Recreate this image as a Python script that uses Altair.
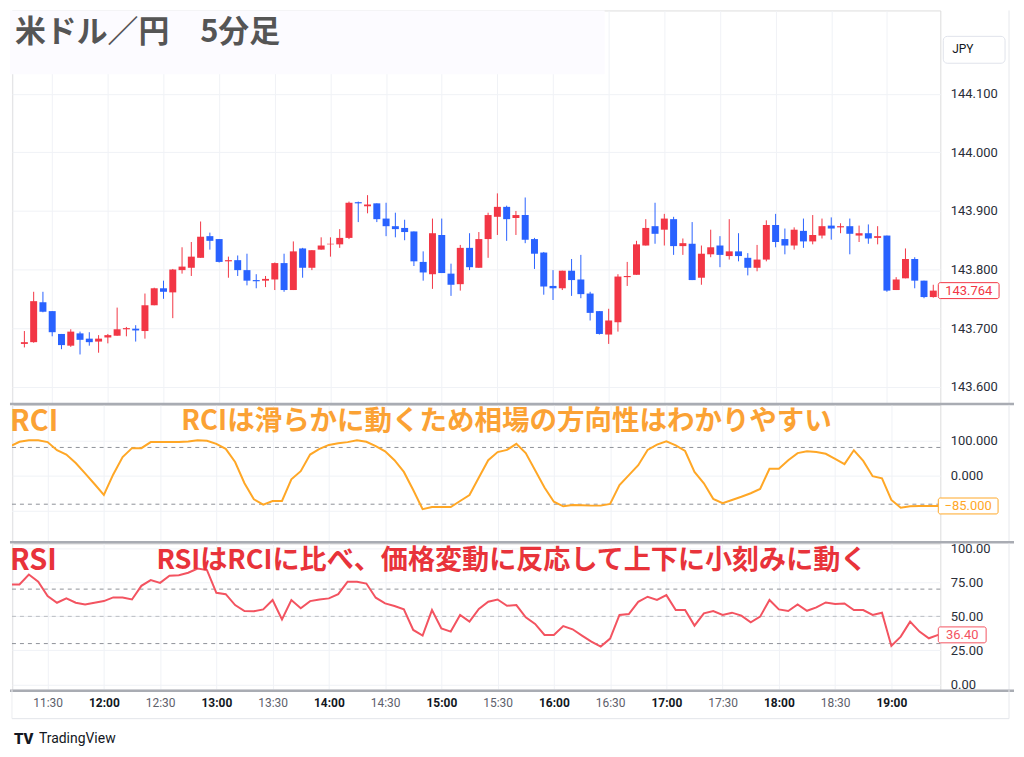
import altair as alt
import pandas as pd

TITLE = "米ドル／円　5分足"
RCI_LABEL = "RCI"
RSI_LABEL = "RSI"
RCI_NOTE = "RCIは滑らかに動くため相場の方向性はわかりやすい"
RSI_NOTE = "RSIはRCIに比べ、価格変動に反応して上下に小刻みに動く"
CURRENCY = "JPY"
BRAND = "TradingView"

# candle times: minutes after 11:00 (11:15 ... 19:25, 5-minute bars)
candle_min = list(range(15, 510, 5))
# indicator values start one bar earlier (11:10, clipped at the left edge)
ind_min = list(range(10, 510, 5))

open_ = [143.673, 143.676, 143.744, 143.729, 143.690, 143.670, 143.691, 143.682, 143.677, 143.684,
         143.687, 143.698, 143.699, 143.695, 143.739, 143.768, 143.761, 143.799, 143.803, 143.820,
         143.857, 143.852, 143.814, 143.816, 143.799, 143.782, 143.781, 143.783, 143.811, 143.765,
         143.836, 143.803, 143.834, 143.843, 143.843, 143.854, 143.915, 143.908, 143.913, 143.887,
         143.874, 143.871, 143.865, 143.813, 143.792, 143.859, 143.793, 143.775, 143.837, 143.803,
         143.852, 143.890, 143.907, 143.888, 143.893, 143.852, 143.829, 143.772, 143.768, 143.798,
         143.783, 143.759, 143.729, 143.689, 143.710, 143.787, 143.791, 143.841, 143.874, 143.868,
         143.886, 143.840, 143.844, 143.786, 143.826, 143.841, 143.823, 143.831, 143.820, 143.803,
         143.817, 143.876, 143.852, 143.841, 143.866, 143.848, 143.858, 143.875, 143.872, 143.874,
         143.858, 143.862, 143.854, 143.858, 143.765, 143.785, 143.818, 143.781, 143.753]
high = [143.695, 143.762, 143.762, 143.729, 143.690, 143.698, 143.694, 143.693, 143.688, 143.690,
        143.735, 143.702, 143.705, 143.759, 143.769, 143.781, 143.801, 143.838, 143.847, 143.882,
        143.863, 143.852, 143.822, 143.824, 143.827, 143.792, 143.789, 143.812, 143.827, 143.848,
        143.837, 143.833, 143.855, 143.855, 143.869, 143.916, 143.916, 143.927, 143.913, 143.914,
        143.897, 143.885, 143.865, 143.831, 143.887, 143.887, 143.810, 143.842, 143.862, 143.864,
        143.897, 143.930, 143.909, 143.900, 143.923, 143.854, 143.830, 143.799, 143.798, 143.818,
        143.825, 143.762, 143.729, 143.733, 143.792, 143.813, 143.849, 143.886, 143.914, 143.895,
        143.890, 143.853, 143.881, 143.841, 143.868, 143.857, 143.886, 143.862, 143.828, 143.842,
        143.884, 143.895, 143.870, 143.872, 143.887, 143.893, 143.887, 143.889, 143.879, 143.887,
        143.875, 143.877, 143.874, 143.858, 143.787, 143.836, 143.821, 143.781, 143.774]
low = [143.667, 143.675, 143.727, 143.686, 143.664, 143.668, 143.655, 143.670, 143.658, 143.674,
       143.687, 143.686, 143.677, 143.682, 143.739, 143.750, 143.717, 143.793, 143.789, 143.820,
       143.834, 143.812, 143.786, 143.789, 143.773, 143.768, 143.770, 143.765, 143.762, 143.765,
       143.786, 143.799, 143.834, 143.822, 143.837, 143.852, 143.881, 143.896, 143.881, 143.857,
       143.855, 143.850, 143.806, 143.781, 143.767, 143.794, 143.755, 143.764, 143.799, 143.803,
       143.820, 143.859, 143.849, 143.859, 143.845, 143.801, 143.757, 143.748, 143.765, 143.755,
       143.751, 143.713, 143.689, 143.673, 143.694, 143.772, 143.791, 143.841, 143.844, 143.841,
       143.825, 143.825, 143.782, 143.774, 143.821, 143.804, 143.817, 143.814, 143.790, 143.797,
       143.814, 143.838, 143.826, 143.834, 143.837, 143.843, 143.853, 143.851, 143.862, 143.826,
       143.847, 143.844, 143.843, 143.762, 143.765, 143.785, 143.768, 143.751, 143.752]
close = [143.676, 143.746, 143.728, 143.693, 143.671, 143.694, 143.680, 143.676, 143.682, 143.688,
         143.698, 143.700, 143.696, 143.739, 143.768, 143.762, 143.800, 143.805, 143.822, 143.856,
         143.849, 143.813, 143.816, 143.799, 143.781, 143.780, 143.784, 143.811, 143.765, 143.831,
         143.803, 143.833, 143.841, 143.844, 143.854, 143.914, 143.913, 143.911, 143.886, 143.874,
         143.869, 143.864, 143.814, 143.795, 143.862, 143.794, 143.774, 143.837, 143.804, 143.852,
         143.893, 143.907, 143.886, 143.893, 143.851, 143.827, 143.771, 143.768, 143.798, 143.782,
         143.758, 143.726, 143.690, 143.713, 143.788, 143.789, 143.843, 143.871, 143.861, 143.887,
         143.840, 143.845, 143.782, 143.827, 143.838, 143.825, 143.831, 143.823, 143.803, 143.817,
         143.876, 143.847, 143.841, 143.868, 143.848, 143.859, 143.874, 143.870, 143.874, 143.861,
         143.862, 143.853, 143.857, 143.764, 143.783, 143.818, 143.781, 143.753, 143.764]

rci = [83, 96, 100, 100, 95, 72, 60, 36, 7, -23,
       -54, 4, 53, 78, 78, 95, 95, 95, 95, 97,
       100, 99, 90, 76, 39, -21, -66, -81, -71, -71,
       -10, 13, 60, 76, 87, 92, 95, 100, 96, 84,
       69, 44, 11, -40, -94, -88, -88, -88, -71, -54,
       -5, 44, 67, 73, 90, 64, 16, -33, -73, -86,
       -82, -83, -84, -84, -79, -26, 2, 30, 73, 88,
       97, 86, 70, 11, -21, -65, -77, -68, -59, -49,
       -37, 20, 20, 44, 64, 69, 67, 62, 48, 33,
       72, 42, -1, -7, -68, -90, -86, -85, -85, -85]
rsi = [73.4, 73.4, 80.7, 75.4, 64.9, 60.0, 63.2, 60.0, 58.8, 60.0,
       61.2, 63.9, 63.9, 62.4, 72.4, 76.6, 74.6, 79.8, 80.2, 82.0,
       85.1, 84.0, 67.3, 66.3, 58.3, 53.9, 53.7, 55.1, 62.0, 47.8,
       62.0, 55.9, 61.2, 62.4, 63.2, 66.3, 75.4, 75.4, 74.1, 63.7,
       59.5, 57.6, 55.1, 40.0, 35.9, 54.6, 41.2, 38.8, 51.0, 46.1,
       55.5, 60.7, 62.4, 57.8, 58.3, 49.3, 44.4, 36.3, 36.3, 42.9,
       40.5, 35.9, 31.5, 27.8, 33.7, 51.0, 51.7, 60.7, 64.4, 62.0,
       65.6, 54.6, 54.6, 43.2, 52.2, 53.9, 51.0, 52.7, 50.5, 45.6,
       49.8, 62.0, 55.1, 53.9, 58.8, 54.1, 56.6, 60.2, 59.0, 59.5,
       54.6, 54.6, 51.0, 52.7, 28.3, 35.1, 46.1, 38.8, 33.9, 36.4]

time_ticks = [30, 60, 90, 120, 150, 180, 210, 240, 270, 300, 330, 360, 390, 420, 450, 480]
price_ticks = [143.6, 143.7, 143.8, 143.9, 144.0, 144.1]
rci_ticks = [100, 0]
rci_grid_extra = [-100]
rci_levels = [80, -80]
rsi_ticks = [0, 25, 50, 75, 100]
rsi_levels = [70, 30]
rsi_mid = [50]

last_price, last_price_txt = 143.764, "143.764"
last_rci, last_rci_txt = -85, "\u221285.000"
last_rsi, last_rsi_txt = 36.4, "36.40"

RED = "#F23645"
BLUE = "#2962FF"
RCI_COLOR = "#FFA726"
RSI_COLOR = "#F35360"
TXT_ORANGE = "#FBA234"
TXT_RED = "#E8333A"
GRID = "#F0F2F6"
SEP = "#A9ACB3"
AX_TXT = "#2A2E39"
JP = "Noto Sans CJK JP"
W = 932
H1, H2, H3 = 396, 139, 147

candles = pd.DataFrame({"m": candle_min, "open": open_, "high": high, "low": low, "close": close})
candles["dir"] = ["up" if c >= o else "down" for o, c in zip(open_, close)]
ind = pd.DataFrame({"m": ind_min, "rci": rci, "rsi": rsi})
one = pd.DataFrame({"k": [0]})

xs = alt.Scale(domain=[11.0, 506.1], nice=False, zero=False)
x_hidden = alt.Axis(values=time_ticks, grid=True, gridColor=GRID, labels=False, ticks=False,
                    domain=False, title=None)
x_time = alt.Axis(values=time_ticks, grid=True, gridColor=GRID, ticks=False, domain=False, title=None,
                  labelExpr="(floor(datum.value/60)+11) + ':' + (datum.value % 60 == 0 ? '00' : '30')",
                  labelPadding=8, labelFontSize=12, labelFont="Roboto",
                  labelFontWeight=alt.condition("datum.value % 60 == 0", alt.value("bold"), alt.value("normal")),
                  labelColor=alt.condition("datum.value % 60 == 0", alt.value("#131722"), alt.value("#5d606b")))


def y_axis(vals, fmt):
    return alt.Axis(orient="right", values=vals, format=fmt, grid=True, gridColor=GRID, domain=False,
                    ticks=False, labelPadding=10, labelFontSize=13, labelFont="Roboto",
                    labelColor=AX_TXT, title=None)


ys_p = alt.Scale(domain=[143.5689, 144.2423], nice=False, zero=False)
ys_c = alt.Scale(domain=[-190.3, 199.9], nice=False, zero=False)
ys_s = alt.Scale(domain=[-3.9, 103.6], nice=False, zero=False)
ax_p = y_axis(price_ticks, ".3f")
ax_c = y_axis(rci_ticks, ".3f")
ax_s = y_axis(rsi_ticks, ".2f")

col = alt.Color("dir:N", scale=alt.Scale(domain=["up", "down"], range=[RED, BLUE]), legend=None)


def border_layers(h, top_sep=True):
    layers = []
    if top_sep:
        layers.append(alt.Chart(one).mark_rule(color=SEP, strokeWidth=2.5).encode(
            x=alt.value(-2), x2=alt.value(1006), y=alt.value(-1)))
    layers.append(alt.Chart(one).mark_rule(color="#ECEDF0", strokeWidth=1).encode(
        x=alt.value(1), y=alt.value(0), y2=alt.value(h)))
    layers.append(alt.Chart(one).mark_rule(color="#E6E8EC", strokeWidth=1).encode(
        x=alt.value(1001), y=alt.value(0), y2=alt.value(h)))
    return layers


def value_box(value, txt, color, x1, x2, ys, ax):
    d = pd.DataFrame({"v": [value], "t": [txt]})
    return [
        alt.Chart(d).mark_rect(fill="white", stroke=color, strokeWidth=1, cornerRadius=2,
                               yOffset=-8, y2Offset=8).encode(
            x=alt.value(x1), x2=alt.value(x2), y=alt.Y("v:Q", scale=ys, axis=ax), y2="v:Q"),
        alt.Chart(d).mark_text(color=color, fontSize=13, font="Roboto", align="center",
                               baseline="middle").encode(
            x=alt.value((x1 + x2) / 2), y=alt.Y("v:Q", scale=ys, axis=ax), text="t:N"),
    ]


# ---------- price pane ----------
wick = alt.Chart(candles).mark_rule(strokeWidth=1).encode(
    x=alt.X("m:Q", scale=xs, axis=x_hidden),
    y=alt.Y("low:Q", scale=ys_p, axis=ax_p), y2="high:Q", color=col)
body = alt.Chart(candles).mark_bar(size=7).encode(
    x=alt.X("m:Q", scale=xs, axis=x_hidden),
    y=alt.Y("open:Q", scale=ys_p, axis=ax_p), y2="close:Q", color=col)
title_bg = alt.Chart(one).mark_rect(fill="#FCFBFF").encode(
    x=alt.value(-2), x2=alt.value(595), y=alt.value(0), y2=alt.value(64))
title_txt = alt.Chart(pd.DataFrame({"t": [TITLE]})).mark_text(
    align="left", baseline="middle", fontSize=31, fontWeight="bold", font=JP, color="#555555").encode(
    x=alt.value(3), y=alt.value(23), text="t:N")
jpy_box = alt.Chart(one).mark_rect(fill="white", stroke="#E0E3EB", strokeWidth=1, cornerRadius=4).encode(
    x=alt.value(935), x2=alt.value(997), y=alt.value(26), y2=alt.value(53))
jpy_txt = alt.Chart(pd.DataFrame({"t": [CURRENCY]})).mark_text(
    align="left", baseline="middle", fontSize=12, font="Roboto", color="#131722").encode(
    x=alt.value(944), y=alt.value(39), text="t:N")
pb = value_box(last_price, last_price_txt, RED, 930, 991, ys_p, ax_p)
price = alt.layer(*border_layers(H1, top_sep=False), wick, body, title_bg, title_txt, jpy_box, jpy_txt,
                  *pb).properties(width=W, height=H1)

# ---------- RCI pane ----------
rci_grid = alt.Chart(pd.DataFrame({"v": rci_grid_extra})).mark_rule(
    color=GRID, strokeWidth=1).encode(y=alt.Y("v:Q", scale=ys_c, axis=ax_c))
rci_lv = alt.Chart(pd.DataFrame({"v": rci_levels})).mark_rule(
    color="#8E9198", strokeDash=[4, 4], strokeWidth=1).encode(y=alt.Y("v:Q", scale=ys_c, axis=ax_c))
rci_line = alt.Chart(ind).mark_line(color=RCI_COLOR, strokeWidth=2, clip=True).encode(
    x=alt.X("m:Q", scale=xs, axis=x_hidden), y=alt.Y("rci:Q", scale=ys_c, axis=ax_c))
cb = value_box(last_rci, last_rci_txt, RCI_COLOR, 930, 990, ys_c, ax_c)
rci_lab = alt.Chart(pd.DataFrame({"t": [RCI_LABEL]})).mark_text(
    align="left", baseline="middle", fontSize=29, fontWeight="bold", font=JP, color=TXT_ORANGE).encode(
    x=alt.value(-2), y=alt.value(17), text="t:N")
rci_note = alt.Chart(pd.DataFrame({"t": [RCI_NOTE]})).mark_text(
    align="left", baseline="middle", fontSize=27.6, fontWeight="bold", font=JP, color=TXT_ORANGE).encode(
    x=alt.value(170), y=alt.value(17), text="t:N")
rci_pane = alt.layer(*border_layers(H2), rci_grid, rci_lv, rci_line, *cb, rci_lab, rci_note).properties(
    width=W, height=H2)

# ---------- RSI pane ----------
rsi_lv = alt.Chart(pd.DataFrame({"v": rsi_levels})).mark_rule(
    color="#8E9198", strokeDash=[4, 4], strokeWidth=1).encode(y=alt.Y("v:Q", scale=ys_s, axis=ax_s))
rsi_md = alt.Chart(pd.DataFrame({"v": rsi_mid})).mark_rule(
    color="#B9BCC2", strokeDash=[4, 4], strokeWidth=1).encode(y=alt.Y("v:Q", scale=ys_s, axis=ax_s))
rsi_line = alt.Chart(ind).mark_line(color=RSI_COLOR, strokeWidth=2, clip=True).encode(
    x=alt.X("m:Q", scale=xs, axis=x_time), y=alt.Y("rsi:Q", scale=ys_s, axis=ax_s))
sb = value_box(last_rsi, last_rsi_txt, RSI_COLOR, 930, 978, ys_s, ax_s)
rsi_lab = alt.Chart(pd.DataFrame({"t": [RSI_LABEL]})).mark_text(
    align="left", baseline="middle", fontSize=29, fontWeight="bold", font=JP, color=TXT_RED).encode(
    x=alt.value(-2), y=alt.value(18), text="t:N")
rsi_note = alt.Chart(pd.DataFrame({"t": [RSI_NOTE]})).mark_text(
    align="left", baseline="middle", fontSize=27.2, fontWeight="bold", font=JP, color=TXT_RED).encode(
    x=alt.value(145), y=alt.value(18), text="t:N")
bottom_sep = alt.Chart(one).mark_rule(color=SEP, strokeWidth=2.5).encode(
    x=alt.value(-2), x2=alt.value(1006), y=alt.value(H3 + 1))
frame_bottom = alt.Chart(one).mark_rule(color="#E3E5EA", strokeWidth=1).encode(
    x=alt.value(0), x2=alt.value(1001), y=alt.value(176))
frame_left = alt.Chart(one).mark_rule(color="#ECEDF0", strokeWidth=1).encode(
    x=alt.value(0), y=alt.value(H3), y2=alt.value(176))
frame_right = alt.Chart(one).mark_rule(color="#E6E8EC", strokeWidth=1).encode(
    x=alt.value(1001), y=alt.value(H3), y2=alt.value(176))
logo = alt.Chart(pd.DataFrame({"t": ["TV"]})).mark_text(
    align="left", baseline="middle", fontSize=15, fontWeight=900, font="Roboto", color="#131722").encode(
    x=alt.value(2), y=alt.value(196), text="t:N")
brand = alt.Chart(pd.DataFrame({"t": [BRAND]})).mark_text(
    align="left", baseline="middle", fontSize=14, font="Roboto", color="#131722").encode(
    x=alt.value(27), y=alt.value(196), text="t:N")
rsi_pane = alt.layer(*border_layers(H3), rsi_md, rsi_lv, rsi_line, *sb, rsi_lab, rsi_note,
                     bottom_sep, frame_bottom, frame_left, frame_right, logo, brand).properties(
    width=W, height=H3)

chart = alt.vconcat(price, rci_pane, rsi_pane, spacing=0, bounds="flush").properties(
    padding={"left": 0, "top": 0, "right": 0, "bottom": 0}
).configure_view(stroke=None).configure(background="white")

chart.save("out.html", embed_options={"renderer": "svg", "actions": False})
